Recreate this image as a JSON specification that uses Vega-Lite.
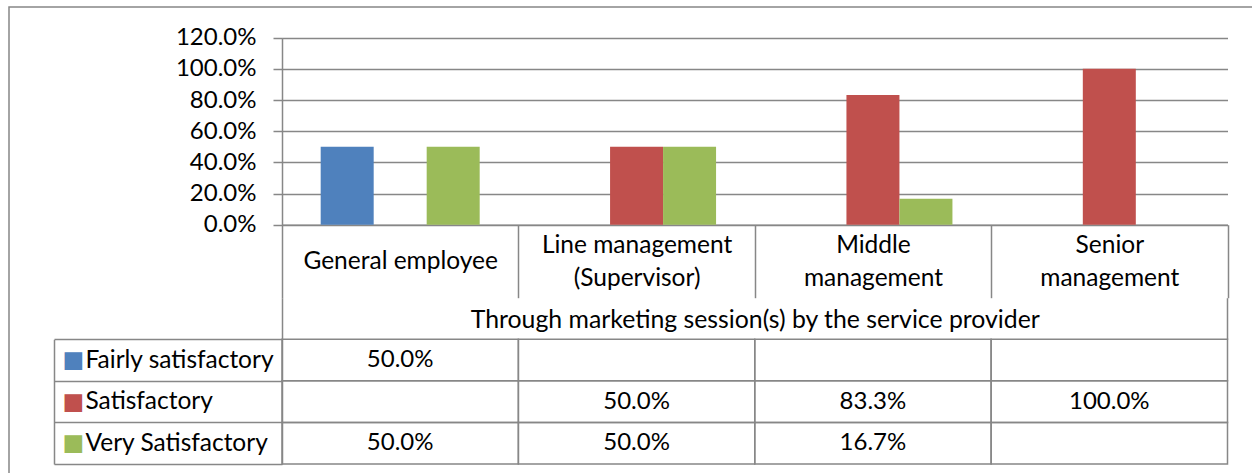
{
  "$schema": "https://vega.github.io/schema/vega-lite/v6.json",
  "width": 1243,
  "height": 466,
  "autosize": {"type": "none"},
  "padding": {"left": 9, "top": 7, "right": 0, "bottom": 0},
  "background": "white",
  "config": {
    "view": {"stroke": "#878787", "strokeWidth": 1.5, "strokeDash": [1243, 1709, 466]},
    "font": "Lato",
    "axis": {
      "domainColor": "#878787", "tickColor": "#878787", "gridColor": "#878787",
      "domainWidth": 1.5, "tickWidth": 1.5, "gridWidth": 1.5,
      "labelFont": "Lato", "labelFontSize": 24.5, "labelColor": "black",
      "titleFont": "Lato", "titleFontSize": 24.8, "titleFontWeight": "normal", "titleColor": "black",
      "labelOverlap": false, "labelLimit": 0
    }
  },
  "data": {
    "values": [
      {"cat": "General employee", "series": "Fairly satisfactory", "value": 0.5},
      {"cat": "General employee", "series": "Satisfactory", "value": null},
      {"cat": "General employee", "series": "Very Satisfactory", "value": 0.5},
      {"cat": "Line management (Supervisor)", "series": "Fairly satisfactory", "value": null},
      {"cat": "Line management (Supervisor)", "series": "Satisfactory", "value": 0.5},
      {"cat": "Line management (Supervisor)", "series": "Very Satisfactory", "value": 0.5},
      {"cat": "Middle management", "series": "Fairly satisfactory", "value": null},
      {"cat": "Middle management", "series": "Satisfactory", "value": 0.833},
      {"cat": "Middle management", "series": "Very Satisfactory", "value": 0.167},
      {"cat": "Senior management", "series": "Fairly satisfactory", "value": null},
      {"cat": "Senior management", "series": "Satisfactory", "value": 1.0},
      {"cat": "Senior management", "series": "Very Satisfactory", "value": null}
    ]
  },
  "layer": [
    {
      "transform": [{"filter": "datum.value != null"}],
      "mark": {"type": "bar"},
      "encoding": {
        "x": {
          "field": "cat", "type": "nominal",
          "sort": ["General employee", "Line management (Supervisor)", "Middle management", "Senior management"],
          "scale": {"domain": ["General employee", "Line management (Supervisor)", "Middle management", "Senior management"], "range": [273, 1218.5], "paddingInner": 0, "paddingOuter": 0},
          "axis": {
            "orient": "bottom", "offset": -248.3,
            "title": "Through marketing session(s) by the service provider",
            "titlePadding": 9,
            "tickBand": "extent", "tickSize": 73,
            "labelAngle": 0, "labelBaseline": "middle", "labelLineHeight": 33,
            "labelPadding": {"condition": {"test": "datum.label == 'General employee'", "value": -36}, "value": -52.7},
            "labelExpr": "datum.label == 'Line management (Supervisor)' ? ['Line management', '(Supervisor)'] : datum.label == 'Middle management' ? ['Middle', 'management'] : datum.label == 'Senior management' ? ['Senior', 'management'] : datum.label",
            "grid": false, "domain": true
          }
        },
        "xOffset": {
          "field": "series", "type": "nominal",
          "sort": ["Fairly satisfactory", "Satisfactory", "Very Satisfactory"],
          "scale": {"domain": ["Fairly satisfactory", "Satisfactory", "Very Satisfactory"], "paddingInner": 0, "paddingOuter": 0.73}
        },
        "y": {
          "field": "value", "type": "quantitative",
          "scale": {"domain": [0, 1.2], "range": [217.7, 30.7], "nice": false},
          "axis": {
            "orient": "left", "offset": -273, "title": null,
            "values": [0, 0.2, 0.4, 0.6, 0.8, 1.0, 1.2], "format": ".1%",
            "labelFontSize": 24,
            "tickSize": 9, "labelPadding": 17, "grid": true, "domain": true
          }
        },
        "color": {
          "field": "series", "type": "nominal",
          "scale": {"domain": ["Fairly satisfactory", "Satisfactory", "Very Satisfactory"], "range": ["#4F81BD", "#C0504D", "#9BBB59"]},
          "legend": null
        }
      }
    },
    {
      "mark": {"type": "rect", "fillOpacity": 0, "stroke": "#878787", "strokeWidth": 1.5},
      "encoding": {
        "x": {
          "field": "cat", "type": "nominal",
          "sort": ["General employee", "Line management (Supervisor)", "Middle management", "Senior management"],
          "axis": {
            "orient": "bottom", "offset": -133.7, "title": null,
            "values": ["Senior management"], "bandPosition": 1,
            "tickSize": -41.6, "labels": false, "domain": false, "grid": false
          }
        },
        "y": {
          "field": "series", "type": "nominal",
          "sort": ["Fairly satisfactory", "Satisfactory", "Very Satisfactory"],
          "scale": {"domain": ["Fairly satisfactory", "Satisfactory", "Very Satisfactory"], "range": [332.3, 457], "paddingInner": 0, "paddingOuter": 0},
          "axis": {
            "orient": "left", "offset": -45, "title": null,
            "ticks": false, "tickSize": 0, "domain": true, "grid": false,
            "labelExpr": "'■'", "labelFont": "DejaVu Sans", "labelFontSize": 23,
            "labelAlign": "left", "labelPadding": -8,
            "labelColor": {
              "condition": [
                {"test": "datum.value == 'Fairly satisfactory'", "value": "#4F81BD"},
                {"test": "datum.value == 'Satisfactory'", "value": "#C0504D"}
              ],
              "value": "#9BBB59"
            }
          }
        }
      }
    },
    {
      "transform": [{"filter": "datum.value != null"}],
      "mark": {"type": "text", "fontSize": 24, "color": "black", "font": "Lato"},
      "encoding": {
        "x": {
          "field": "cat", "type": "nominal",
          "sort": ["General employee", "Line management (Supervisor)", "Middle management", "Senior management"],
          "axis": {
            "orient": "bottom", "offset": -133.7, "title": null,
            "values": ["General employee"], "bandPosition": 0,
            "tickSize": -41.6, "labels": false, "domain": false, "grid": false
          }
        },
        "y": {
          "field": "series", "type": "nominal",
          "sort": ["Fairly satisfactory", "Satisfactory", "Very Satisfactory"],
          "scale": {"domain": ["Fairly satisfactory", "Satisfactory", "Very Satisfactory"], "range": [332.3, 457], "paddingInner": 0, "paddingOuter": 0},
          "axis": {
            "orient": "left", "offset": -273, "title": null,
            "tickBand": "extent", "tickSize": 228,
            "labelAlign": "left", "labelPadding": -31,
            "domain": true, "grid": false
          }
        },
        "text": {"field": "value", "type": "quantitative", "format": ".1%"}
      }
    }
  ],
  "resolve": {
    "scale": {"y": "independent"},
    "axis": {"x": "independent", "y": "independent"}
  }
}
